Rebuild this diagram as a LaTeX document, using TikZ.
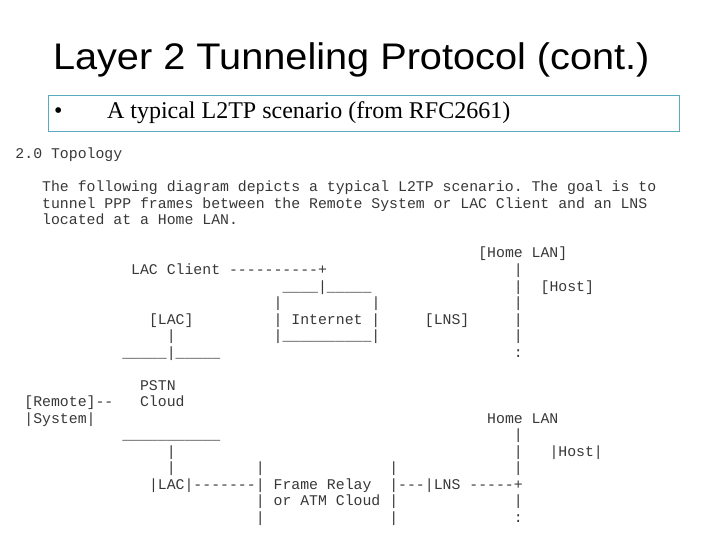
\documentclass[tikz,border=0pt]{standalone}
\usepackage{fontspec}
\setmainfont{Liberation Serif}
\newfontfamily\titlefont{Liberation Sans}
\setmonofont{Liberation Mono}
\definecolor{boxline}{RGB}{90,170,190}
\definecolor{scan}{RGB}{55,55,55}
\newcommand\asc[4]{\node[tt] (#1) at ({15.5+8.9*#2},{159+16.5*#3}) {#4};}
\begin{document}
\begin{tikzpicture}[x=1pt,y=-1pt,
  tt/.style={anchor=base west,inner sep=0pt,outer sep=0pt,
    font=\ttfamily\frenchspacing\fontsize{14.83}{16}\selectfont,text=scan},
  title/.style={anchor=base west,inner sep=0pt,outer sep=0pt,
    font=\titlefont\fontsize{37}{40}\selectfont},
  bullettext/.style={anchor=base west,inner sep=0pt,outer sep=0pt,
    font=\fontsize{24}{26}\selectfont},
  framebox/.style={draw=boxline,line width=1pt}]
\useasboundingbox (0,0) rectangle (720,540);
% title and bullet
\node[title] (title) at (53,69.5) {\scalebox{1.073}[1]{Layer 2 Tunneling Protocol (cont.)}};
\draw[framebox] (48,96) rectangle (679,131.5);
\node[bullettext] (bul) at (54,119) {•};
\node[bullettext] (btext) at (107,119) {A typical L2TP scenario (from RFC2661)};
% RFC text
\asc{sec}{0}{0}{2.0 Topology}
\asc{p1}{3}{2}{The following diagram depicts a typical L2TP scenario. The goal is to}
\asc{p2}{3}{3}{tunnel PPP frames between the Remote System or LAC Client and an LNS}
\asc{p3}{3}{4}{located at a Home LAN.}
% upper diagram
\asc{homelan}{52}{6}{[Home LAN]}
\asc{lacclient}{13}{7}{LAC Client ----------+}
\asc{v7}{56}{7}{|}
\asc{inettop}{30}{8}{\_\_\_\_|\_\_\_\_\_}
\asc{v8}{56}{8}{|}
\asc{hosta}{59}{8}{[Host]}
\asc{inetlnine}{29}{9}{|}
\asc{inetrnine}{40}{9}{|}
\asc{v9}{56}{9}{|}
\asc{laca}{15}{10}{[LAC]}
\asc{inet}{29}{10}{| Internet |}
\asc{lnsa}{46}{10}{[LNS]}
\asc{v10}{56}{10}{|}
\asc{lacveleven}{17}{11}{|}
\asc{inetbot}{29}{11}{|\_\_\_\_\_\_\_\_\_\_|}
\asc{v11}{56}{11}{|}
\asc{lacbar}{12}{12}{\_\_\_\_\_|\_\_\_\_\_}
\asc{dotsa}{56}{12}{:}
% lower diagram
\asc{pstn}{14}{14}{PSTN}
\asc{remote}{1}{15}{[Remote]--}
\asc{cloud}{14}{15}{Cloud}
\asc{system}{1}{16}{|System|}
\asc{homelanb}{53}{16}{Home LAN}
\asc{pstnbar}{12}{17}{\_\_\_\_\_\_\_\_\_\_\_}
\asc{v17}{56}{17}{|}
\asc{lacveighteen}{17}{18}{|}
\asc{v18}{56}{18}{|}
\asc{hostb}{60}{18}{|Host|}
\asc{lacvnineteen}{17}{19}{|}
\asc{frlnineteen}{27}{19}{|}
\asc{frrnineteen}{42}{19}{|}
\asc{v19}{56}{19}{|}
\asc{lacb}{15}{20}{|LAC|-------|}
\asc{fr}{29}{20}{Frame Relay}
\asc{lnsb}{42}{20}{|---|LNS -----+}
\asc{frltwentyone}{27}{21}{|}
\asc{atm}{29}{21}{or ATM Cloud}
\asc{frrtwentyone}{42}{21}{|}
\asc{v21}{56}{21}{|}
\asc{frltwentytwo}{27}{22}{|}
\asc{frrtwentytwo}{42}{22}{|}
\asc{dotsb}{56}{22}{:}
\end{tikzpicture}
\end{document}
